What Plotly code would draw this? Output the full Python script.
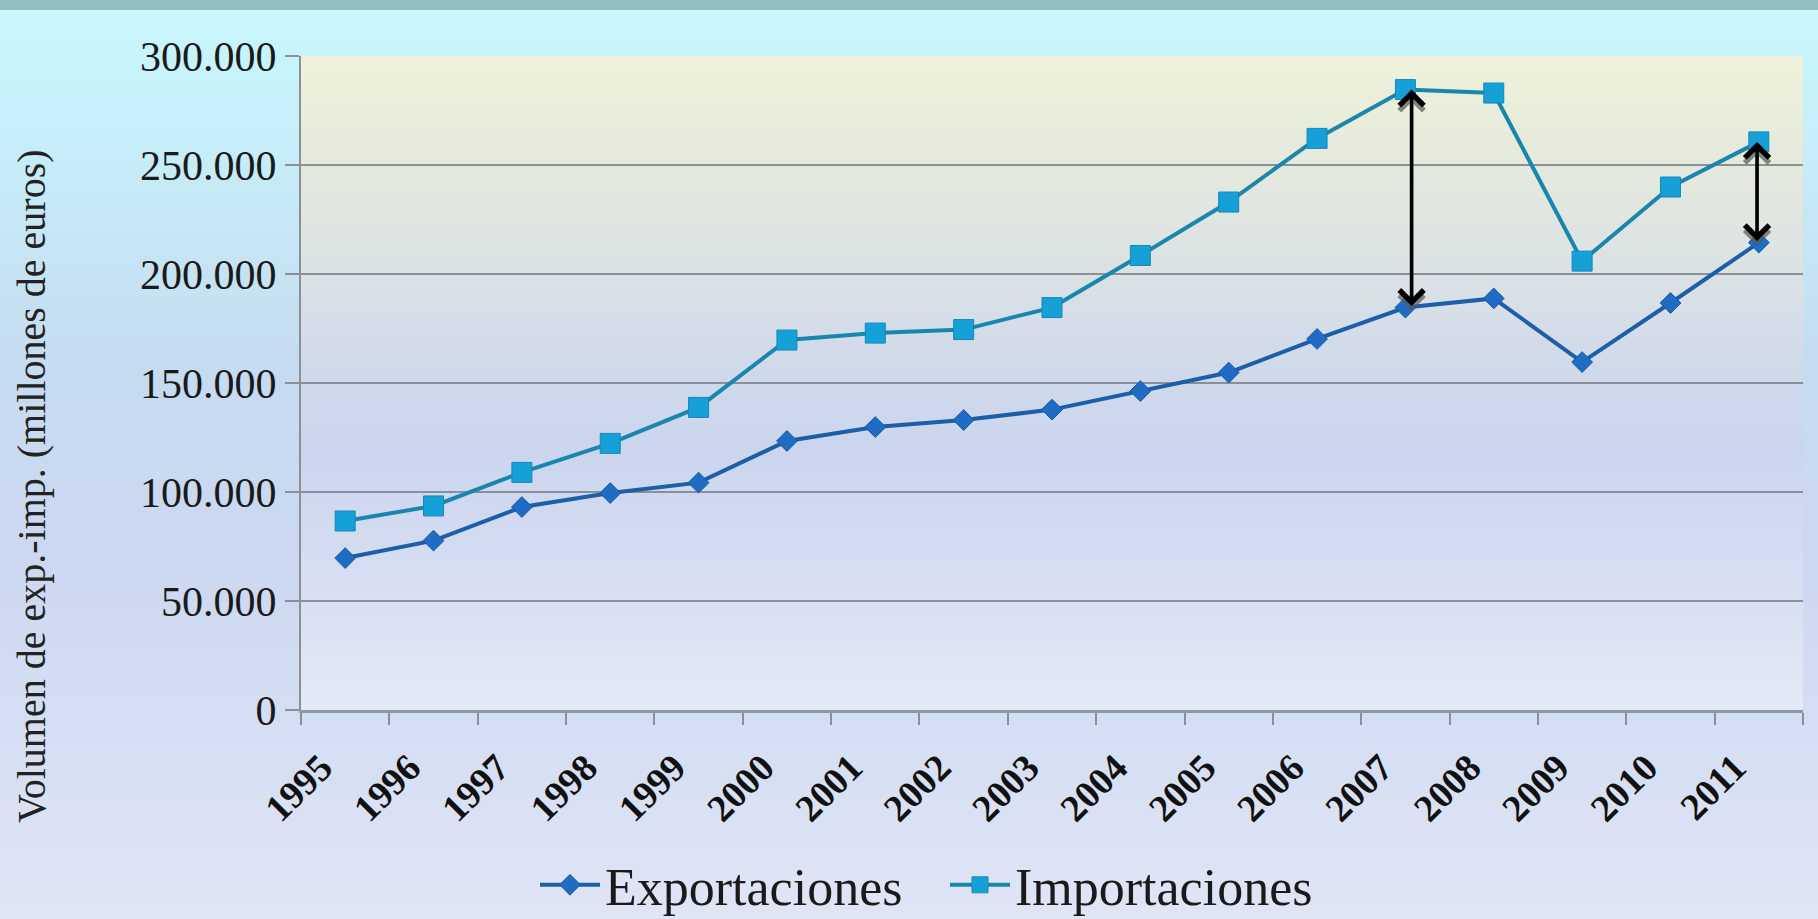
import plotly.graph_objects as go

years = [str(y) for y in range(1995, 2012)]
exportaciones = [69700, 77700, 93100, 99500, 104300, 123400, 129800, 133000, 137800,
                 146300, 154800, 170200, 184600, 188800, 159600, 186700, 214400]
importaciones = [86700, 93600, 109000, 122300, 138800, 169700, 172900, 174500, 184600,
                 208500, 233000, 262200, 284600, 283000, 205900, 239900, 260600]
y_ticks = [0, 50000, 100000, 150000, 200000, 250000, 300000]
arrow_years = ["2007", "2011"]

W, H = 1818, 919
L, R, T, B = 301, 15, 56, 209
PW, PH = W - L - R, H - T - B

def px_x(px):
    return (px - L) / PW

def px_y(py):
    return (H - B - py) / PH

def hex2rgb(h):
    h = h.lstrip('#')
    return tuple(int(h[i:i + 2], 16) for i in (0, 2, 4))

def grad(stops, t):
    for (t0, c0), (t1, c1) in zip(stops, stops[1:]):
        if t0 <= t <= t1:
            f = 0 if t1 == t0 else (t - t0) / (t1 - t0)
            a, b = hex2rgb(c0), hex2rgb(c1)
            return 'rgb(%d,%d,%d)' % tuple(round(a[i] + (b[i] - a[i]) * f) for i in range(3))
    return stops[-1][1]

page_stops = [(0.0, '#c8f8fc'), (0.15, '#c6eef9'), (0.38, '#c6dcf0'),
              (0.6, '#ccd8f0'), (1.0, '#dfe5f5')]
plot_stops = [(0.0, '#eef1d9'), (0.15, '#e6eadc'), (0.3, '#dde3e3'), (0.45, '#d2dbea'),
              (0.6, '#cbd5ee'), (0.8, '#d6def2'), (1.0, '#e4e9f6')]

shapes = []
N = 60
for i in range(N):
    y0 = 10 + (H - 10) * i / N
    y1 = 10 + (H - 10) * (i + 1) / N + 1
    shapes.append(dict(type='rect', xref='paper', yref='paper', layer='below',
                       x0=px_x(0), x1=px_x(W), y0=px_y(y1), y1=px_y(y0),
                       fillcolor=grad(page_stops, (i + 0.5) / N), line=dict(width=0)))
shapes.append(dict(type='rect', xref='paper', yref='paper', layer='below',
                   x0=px_x(0), x1=px_x(W), y0=px_y(10), y1=px_y(0),
                   fillcolor='#8fbfc1', line=dict(width=0)))
M = 60
for i in range(M):
    shapes.append(dict(type='rect', xref='paper', yref='paper', layer='below',
                       x0=0, x1=1, y0=1 - (i + 1) / M - 0.002, y1=1 - i / M,
                       fillcolor=grad(plot_stops, (i + 0.5) / M), line=dict(width=0)))

fig = go.Figure()
fig.add_trace(go.Scatter(
    x=years, y=exportaciones, name='Exportaciones', mode='lines+markers',
    line=dict(color='#1c5ea8', width=4),
    marker=dict(symbol='diamond', size=16, color='#1f6cc4', line=dict(color='#1a5aa0', width=1))))
fig.add_trace(go.Scatter(
    x=years, y=importaciones, name='Importaciones', mode='lines+markers',
    line=dict(color='#1987ad', width=4),
    marker=dict(symbol='square', size=20, color='#16a0d8', line=dict(color='#1688b8', width=1))))

annotations = []
for yr, dx in zip(arrow_years, [0.07, -0.02]):
    i = years.index(yr)
    for color, ys in (('rgba(90,90,90,0.7)', -5), ('black', 0)):
        annotations.append(dict(
            x=i + dx, y=importaciones[i], ax=i + dx, ay=exportaciones[i],
            xref='x', yref='y', axref='x', ayref='y', text='', showarrow=True,
            arrowside='end+start', arrowhead=4, startarrowhead=4, arrowsize=1.35,
            startarrowsize=1.35, arrowwidth=3.5, arrowcolor=color, yshift=ys))

annotations.append(dict(
    text='Volumen de exp.-imp. (millones de euros)', textangle=-90,
    xref='paper', yref='paper', x=px_x(31), y=px_y(486), showarrow=False,
    xanchor='center', yanchor='middle',
    font=dict(family='Liberation Serif', size=40, color='#222222')))

fig.update_layout(
    width=W, height=H,
    margin=dict(l=L, r=R, t=T, b=B, pad=0, autoexpand=False),
    paper_bgcolor='#d0e4f2', plot_bgcolor='rgba(0,0,0,0)',
    separators=',.',
    font=dict(family='Liberation Serif', color='#1a1a1a'),
    shapes=shapes, annotations=annotations,
    showlegend=True,
    legend=dict(orientation='h', x=px_x(535), xanchor='left', y=px_y(885), yanchor='middle',
                font=dict(size=52, color='#1a1a1a'), bgcolor='rgba(0,0,0,0)',
                itemwidth=60, tracegroupgap=0, entrywidth=335, entrywidthmode='pixels'),
    xaxis=dict(type='category', tickangle=-45, tickson='boundaries', ticks='outside',
               ticklen=12, tickcolor='#8a9096', tickwidth=2, showgrid=False,
               showline=True, linecolor='#8a98a4', linewidth=3, automargin=False,
               tickfont=dict(size=38, color='#111111', weight='bold'), ticklabelstandoff=17,
               ticklabelshift=-24, range=[-0.5, 16.5]),
    yaxis=dict(range=[0, 300000], tickvals=y_ticks, tickformat=',d', ticks='outside',
               ticklen=14, tickcolor='#8a9096', tickwidth=2, showgrid=True,
               gridcolor='#8a9096', gridwidth=2, showline=True, linecolor='#8a9096',
               linewidth=2, zeroline=False, tickfont=dict(size=42, color='#1a1a1a'),
               ticklabelstandoff=0, automargin=False),
)

fig.write_html('out.html', config={'displayModeBar': False},
               post_script="document.body.style.margin='0';document.body.style.overflow='hidden';")
